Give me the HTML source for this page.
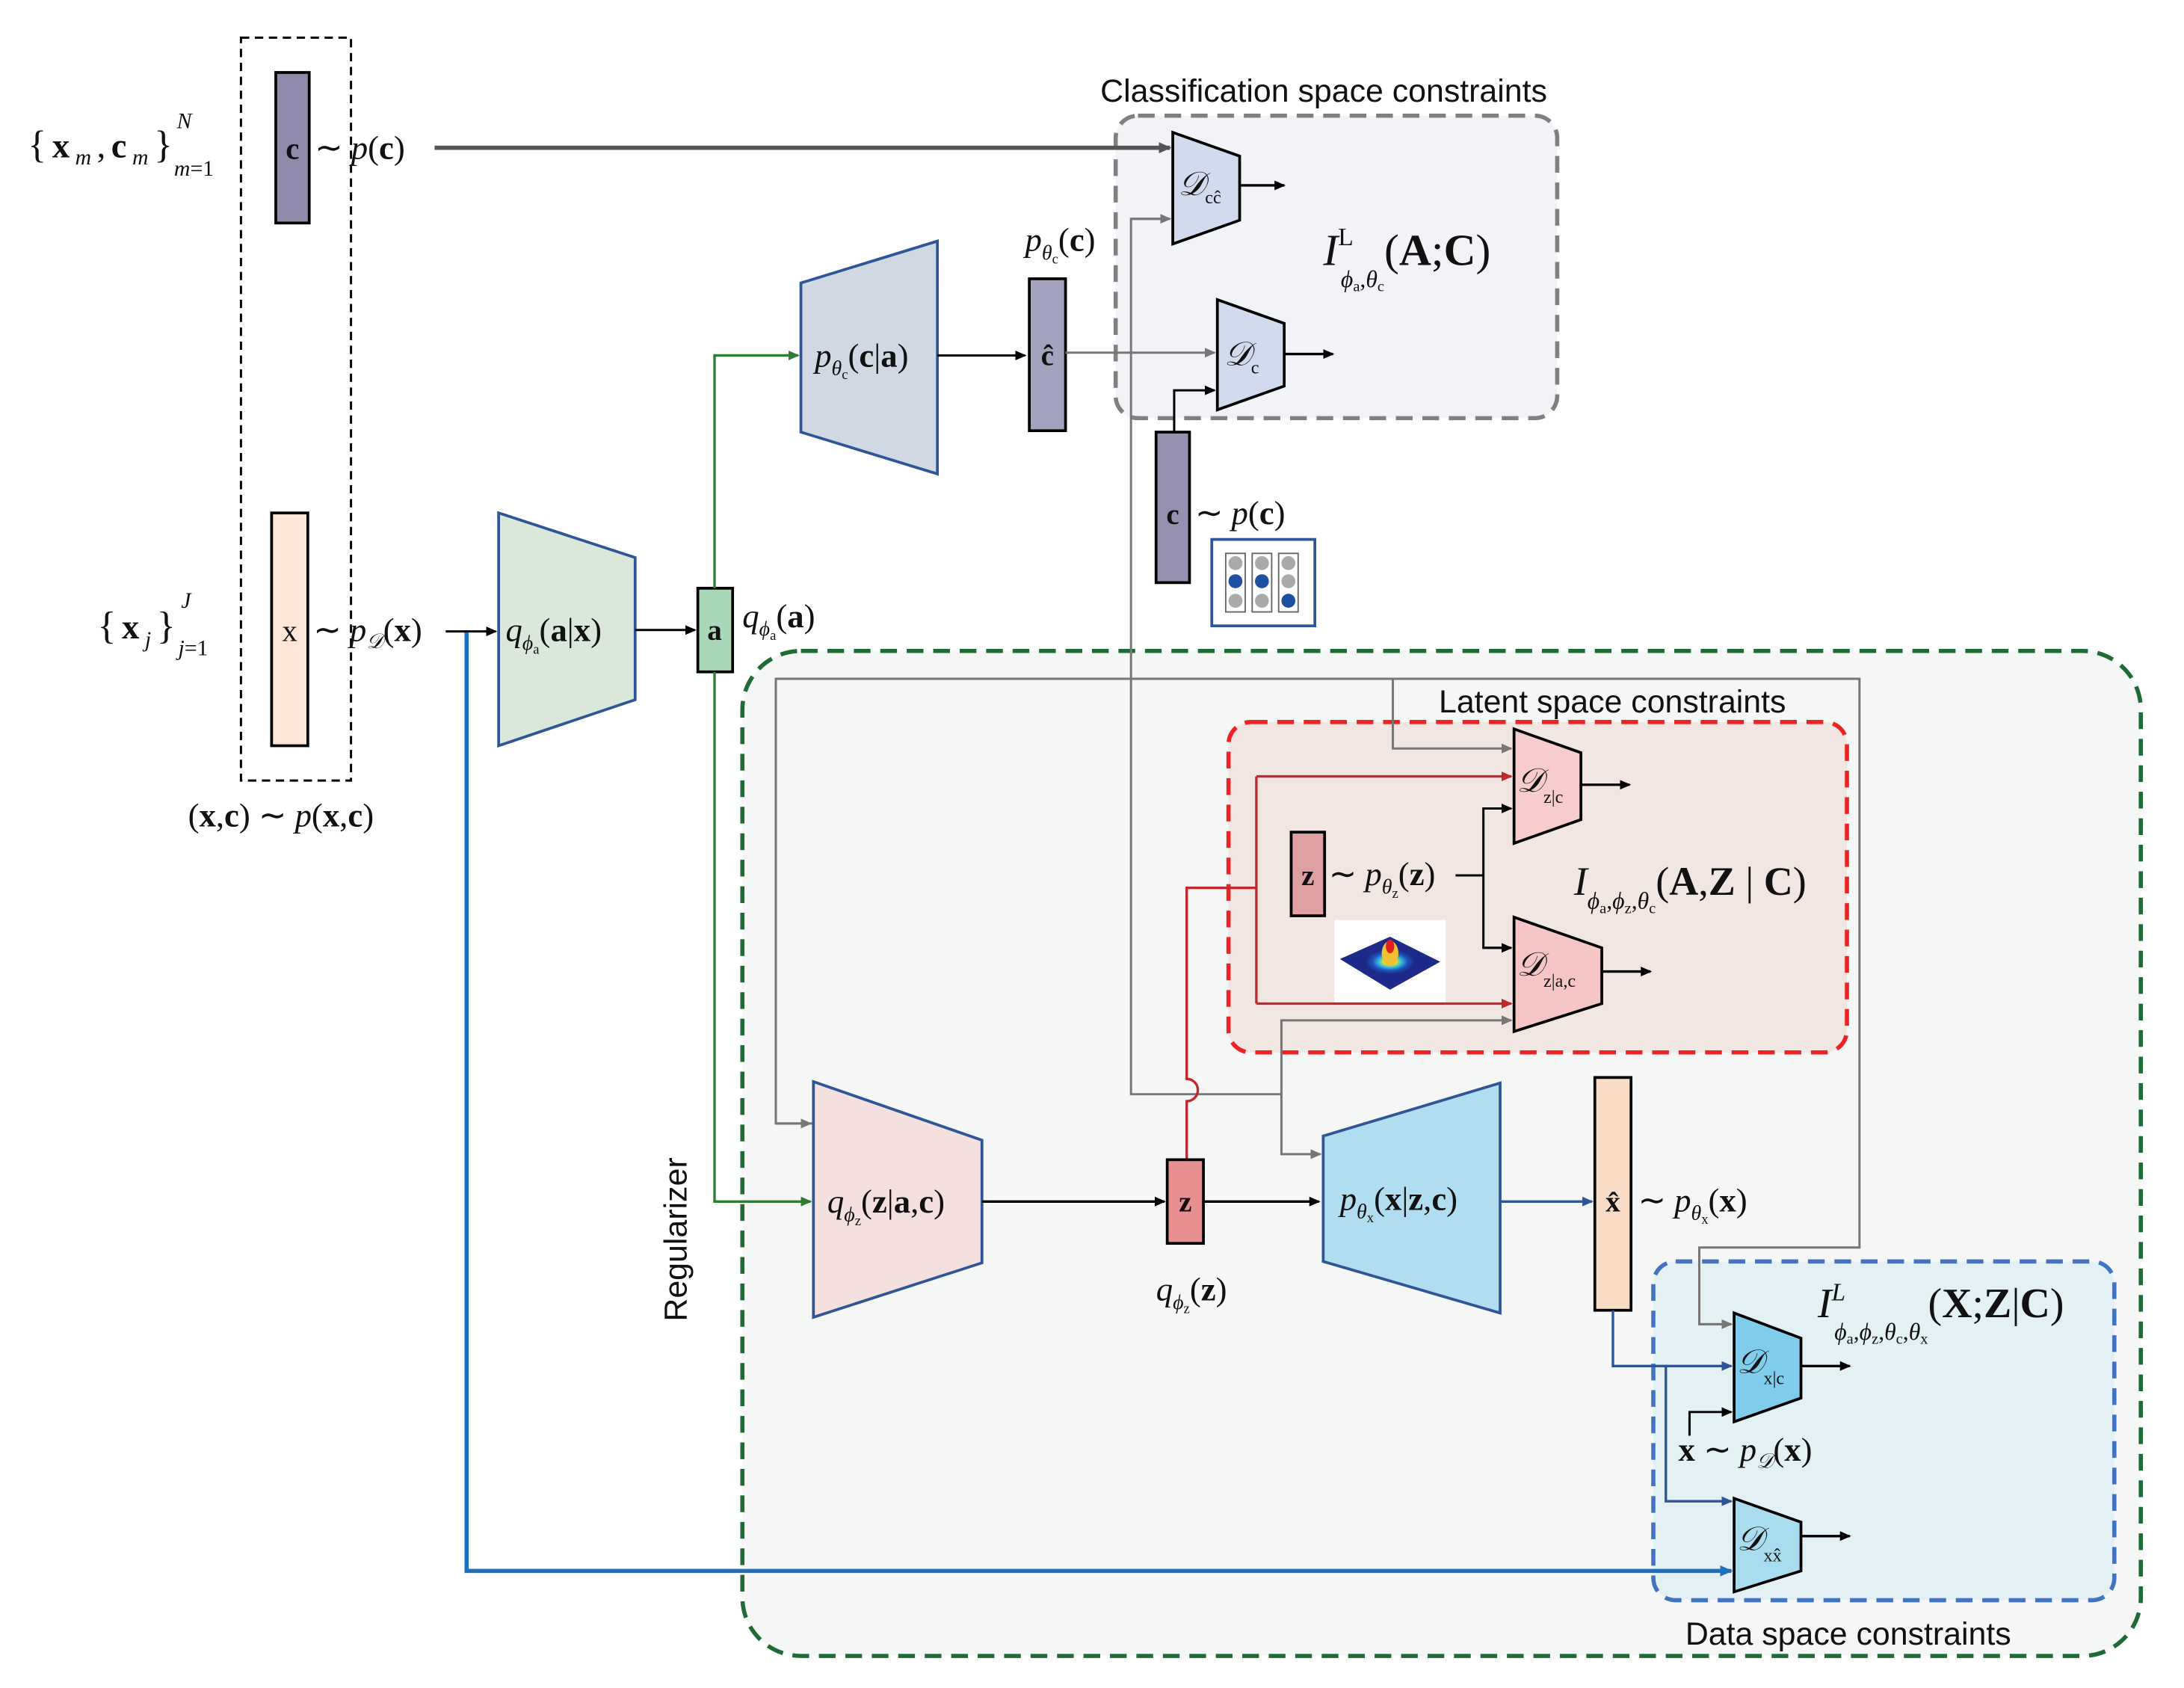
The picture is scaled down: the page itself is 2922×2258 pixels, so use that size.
<!DOCTYPE html>
<html><head><meta charset="utf-8"><style>
html,body{margin:0;padding:0;background:#fff;}
svg{display:block;}
text{font-family:"Liberation Serif",serif;fill:#111;}
.s{font-family:"Liberation Sans",sans-serif;}
.b{font-weight:bold;}
.i{font-style:italic;}
</style></head><body>
<svg width="2922" height="2258" viewBox="0 0 1568 1211" preserveAspectRatio="none" xmlns="http://www.w3.org/2000/svg">
<defs>
<marker id="ak" markerWidth="8" markerHeight="8" refX="7" refY="4" orient="auto" markerUnits="userSpaceOnUse"><path d="M0,0.5 L8,4 L0,7.5 Z" fill="#000"/></marker>
<marker id="ag" markerWidth="8" markerHeight="8" refX="7" refY="4" orient="auto" markerUnits="userSpaceOnUse"><path d="M0,0.5 L8,4 L0,7.5 Z" fill="#777"/></marker>
<marker id="agd" markerWidth="9" markerHeight="9" refX="8" refY="4.5" orient="auto" markerUnits="userSpaceOnUse"><path d="M0,0.5 L9,4.5 L0,8.5 Z" fill="#555"/></marker>
<marker id="agr" markerWidth="8" markerHeight="8" refX="7" refY="4" orient="auto" markerUnits="userSpaceOnUse"><path d="M0,0.5 L8,4 L0,7.5 Z" fill="#2e7d32"/></marker>
<marker id="ar" markerWidth="8" markerHeight="8" refX="7" refY="4" orient="auto" markerUnits="userSpaceOnUse"><path d="M0,0.5 L8,4 L0,7.5 Z" fill="#c0282d"/></marker>
<marker id="ab" markerWidth="8" markerHeight="8" refX="7" refY="4" orient="auto" markerUnits="userSpaceOnUse"><path d="M0,0.5 L8,4 L0,7.5 Z" fill="#2f5597"/></marker>
<marker id="abb" markerWidth="9" markerHeight="9" refX="8" refY="4.5" orient="auto" markerUnits="userSpaceOnUse"><path d="M0,0.5 L9,4.5 L0,8.5 Z" fill="#1f6fbf"/></marker>
<radialGradient id="gauss" cx="50%" cy="50%" r="50%"><stop offset="0" stop-color="#e02020"/><stop offset="0.25" stop-color="#f0e020"/><stop offset="0.45" stop-color="#30c0e0"/><stop offset="0.7" stop-color="#2050c0"/><stop offset="1" stop-color="#1a2a80"/></radialGradient>
</defs>

<rect x="533" y="467" width="1004" height="721" rx="42" fill="#f5f7f7" stroke="#1e6b35" stroke-width="3" stroke-dasharray="12,7"/>
<rect x="801" y="83" width="317" height="217" rx="16" fill="#f2f3f7" stroke="#808080" stroke-width="3" stroke-dasharray="12,7"/>
<rect x="882" y="518" width="444" height="237" rx="16" fill="#f2e6e3" stroke="#ee2222" stroke-width="3" stroke-dasharray="12,7"/>
<rect x="1187" y="905" width="331" height="243" rx="16" fill="#e4f1f4" stroke="#4472c4" stroke-width="3" stroke-dasharray="12,7"/>
<rect x="173" y="27" width="79" height="533" fill="none" stroke="#000" stroke-width="1.6" stroke-dasharray="6,4"/>

<text class="s" x="790" y="73" font-size="23">Classification space constraints</text>
<text class="s" x="1033" y="511" font-size="23">Latent space constraints</text>
<text class="s" x="1210" y="1180" font-size="23">Data space constraints</text>
<text class="s" x="0" y="0" font-size="23" transform="translate(493,948) rotate(-90)">Regularizer</text>

<rect x="198" y="52" width="24" height="108" fill="#8f8aab" stroke="#000" stroke-width="2"/>
<text x="210" y="114" font-size="22" class="b" text-anchor="middle">c</text>
<text x="226" y="114" font-size="24">∼ <tspan class="i">p</tspan>(<tspan class="b">c</tspan>)</text>
<text x="20" y="113" font-size="28" textLength="104" lengthAdjust="spacing">{<tspan class="b" font-size="25">x</tspan><tspan class="i" font-size="16" dy="5">m</tspan><tspan dy="-5" font-size="25">,</tspan><tspan class="b" font-size="25">c</tspan><tspan class="i" font-size="16" dy="5">m</tspan><tspan dy="-5">}</tspan></text>
<text x="125" y="126" font-size="16"><tspan class="i">m</tspan>=1</text>
<text x="127" y="92" font-size="16" class="i">N</text>
<line x1="312" y1="106" x2="840" y2="106" stroke="#555" stroke-width="3" marker-end="url(#agd)"/>

<rect x="195" y="368" width="26" height="167" fill="#fde6d8" stroke="#000" stroke-width="2"/>
<text x="208" y="460" font-size="22" text-anchor="middle" fill="#555">x</text>
<text x="225" y="460" font-size="24">∼ <tspan class="i">p</tspan><tspan class="i" font-size="15" dy="5">𝒟</tspan><tspan dy="-5">(</tspan><tspan class="b">x</tspan>)</text>
<text x="70" y="458" font-size="28" textLength="56" lengthAdjust="spacing">{<tspan class="b" font-size="25">x</tspan><tspan class="i" font-size="16" dy="6">j</tspan><tspan dy="-6">}</tspan></text>
<text x="128" y="470" font-size="16"><tspan class="i">j</tspan>=1</text>
<text x="130" y="436" font-size="16" class="i">J</text>
<text x="135" y="593" font-size="24">(<tspan class="b">x</tspan>,<tspan class="b">c</tspan>) ∼ <tspan class="i">p</tspan>(<tspan class="b">x</tspan>,<tspan class="b">c</tspan>)</text>

<polyline points="335,453 335,1127 1243,1127" fill="none" stroke="#1f6fbf" stroke-width="3" marker-end="url(#abb)"/>
<line x1="320" y1="453" x2="356" y2="453" stroke="#000" stroke-width="1.6" marker-end="url(#ak)"/>

<polygon points="358,368 456,400 456,502 358,535" fill="#dae8dc" stroke="#2f5597" stroke-width="2"/>
<text x="363" y="460" font-size="24"><tspan class="i">q</tspan><tspan class="i" font-size="15" dy="6">ϕ</tspan><tspan font-size="10" dy="3">a</tspan><tspan dy="-9">(</tspan><tspan class="b">a</tspan>|<tspan class="b">x</tspan>)</text>
<line x1="456" y1="452" x2="499" y2="452" stroke="#000" stroke-width="1.6" marker-end="url(#ak)"/>
<rect x="501" y="422" width="25" height="60" fill="#a9d8b8" stroke="#000" stroke-width="2"/>
<text x="513" y="459" font-size="21" class="b" text-anchor="middle">a</text>
<text x="533" y="450" font-size="24"><tspan class="i">q</tspan><tspan class="i" font-size="15" dy="6">ϕ</tspan><tspan font-size="10" dy="3">a</tspan><tspan dy="-9">(</tspan><tspan class="b">a</tspan>)</text>

<polyline points="513,422 513,255 573,255" fill="none" stroke="#2e7d32" stroke-width="1.8" marker-end="url(#agr)"/>
<polyline points="513,482 513,862 582,862" fill="none" stroke="#2e7d32" stroke-width="1.8" marker-end="url(#agr)"/>

<polygon points="575,203 673,173 673,340 575,310" fill="#cfd8e3" stroke="#2f5597" stroke-width="2"/>
<text x="585" y="263" font-size="24"><tspan class="i">p</tspan><tspan class="i" font-size="15" dy="6">θ</tspan><tspan font-size="10" dy="3">c</tspan><tspan dy="-9">(</tspan><tspan class="b">c</tspan>|<tspan class="b">a</tspan>)</text>
<line x1="673" y1="255" x2="736" y2="255" stroke="#000" stroke-width="1.6" marker-end="url(#ak)"/>
<rect x="739" y="200" width="26" height="109" fill="#a3a3bf" stroke="#000" stroke-width="2"/>
<text x="752" y="262" font-size="21" class="b" text-anchor="middle">ĉ</text>
<text x="736" y="180" font-size="24"><tspan class="i">p</tspan><tspan class="i" font-size="15" dy="6">θ</tspan><tspan font-size="10" dy="3">c</tspan><tspan dy="-9">(</tspan><tspan class="b">c</tspan>)</text>
<line x1="765" y1="253" x2="872" y2="253" stroke="#777" stroke-width="1.6" marker-end="url(#ag)"/>

<polygon points="842,95 890,112 890,158 842,175" fill="#d2dbee" stroke="#000" stroke-width="2"/>
<text x="846" y="140" font-size="24" class="i">𝒟<tspan font-size="13" dy="6" font-style="normal">cĉ</tspan></text>
<line x1="890" y1="133" x2="922" y2="133" stroke="#000" stroke-width="1.8" marker-end="url(#ak)"/>
<polygon points="874,215 922,232 922,277 874,294" fill="#d2dbee" stroke="#000" stroke-width="2"/>
<text x="879" y="262" font-size="24" class="i">𝒟<tspan font-size="13" dy="6" font-style="normal">c</tspan></text>
<line x1="922" y1="254" x2="957" y2="254" stroke="#000" stroke-width="1.8" marker-end="url(#ak)"/>
<polyline points="843,310 843,280 872,280" fill="none" stroke="#000" stroke-width="1.6" marker-end="url(#ak)"/>
<text x="950" y="190" font-size="32"><tspan class="i">I</tspan><tspan font-size="18" dy="-14">L</tspan><tspan class="i" font-size="17" dy="30" dx="-9">ϕ</tspan><tspan font-size="11" dy="3">a</tspan><tspan font-size="17" dy="-3">,</tspan><tspan class="i" font-size="17">θ</tspan><tspan font-size="11" dy="3">c</tspan><tspan dy="-19">(</tspan><tspan class="b">A</tspan>;<tspan class="b">C</tspan>)</text>

<rect x="830" y="310" width="24" height="108" fill="#9590b0" stroke="#000" stroke-width="2"/>
<text x="842" y="376" font-size="21" class="b" text-anchor="middle">c</text>
<text x="858" y="376" font-size="24">∼ <tspan class="i">p</tspan>(<tspan class="b">c</tspan>)</text>
<rect x="870" y="387" width="74" height="62" fill="#fff" stroke="#2f5597" stroke-width="2"/>
<g stroke="#666" stroke-width="1" fill="none"><rect x="880" y="397" width="14" height="42"/><rect x="899" y="397" width="14" height="42"/><rect x="918" y="397" width="14" height="42"/></g>
<g fill="#aaa"><circle cx="887" cy="404" r="5"/><circle cx="887" cy="431" r="5"/><circle cx="906" cy="404" r="5"/><circle cx="906" cy="431" r="5"/><circle cx="925" cy="404" r="5"/><circle cx="925" cy="417" r="5"/></g>
<g fill="#1f4fa0"><circle cx="887" cy="417" r="5"/><circle cx="906" cy="417" r="5"/><circle cx="925" cy="431" r="5"/></g>

<polyline points="840,157 812,157 812,785 920,785" fill="none" stroke="#777" stroke-width="1.6"/>
<line x1="812" y1="157" x2="840" y2="157" stroke="#777" stroke-width="1.6" marker-end="url(#ag)"/>
<polyline points="920,785 920,732 1085,732" fill="none" stroke="#777" stroke-width="1.6" marker-end="url(#ag)"/>
<polyline points="920,785 920,828 948,828" fill="none" stroke="#777" stroke-width="1.6" marker-end="url(#ag)"/>
<polyline points="583,806 557,806 557,487 1335,487 1335,895 1220,895 1220,950 1243,950" fill="none" stroke="#777" stroke-width="1.6"/>
<line x1="557" y1="806" x2="582" y2="806" stroke="#777" stroke-width="1.6" marker-end="url(#ag)"/>
<line x1="1220" y1="950" x2="1243" y2="950" stroke="#777" stroke-width="1.6" marker-end="url(#ag)"/>
<polyline points="1000,487 1000,537 1085,537" fill="none" stroke="#777" stroke-width="1.6" marker-end="url(#ag)"/>

<polygon points="1087,523 1135,540 1135,588 1087,605" fill="#f6cccc" stroke="#000" stroke-width="2"/>
<text x="1089" y="568" font-size="24" class="i">𝒟<tspan font-size="13" dy="8" font-style="normal">z|c</tspan></text>
<line x1="1135" y1="563" x2="1170" y2="563" stroke="#000" stroke-width="1.8" marker-end="url(#ak)"/>
<polygon points="1087,658 1150,680 1150,720 1087,740" fill="#f6c6c6" stroke="#000" stroke-width="2"/>
<text x="1089" y="700" font-size="24" class="i">𝒟<tspan font-size="13" dy="8" font-style="normal">z|a,c</tspan></text>
<line x1="1150" y1="697" x2="1185" y2="697" stroke="#000" stroke-width="1.8" marker-end="url(#ak)"/>
<rect x="927" y="597" width="24" height="60" fill="#dea0a0" stroke="#000" stroke-width="2"/>
<text x="939" y="635" font-size="21" class="b" text-anchor="middle">z</text>
<text x="954" y="635" font-size="24">∼ <tspan class="i">p</tspan><tspan class="i" font-size="15" dy="6">θ</tspan><tspan font-size="10" dy="3">z</tspan><tspan dy="-9">(</tspan><tspan class="b">z</tspan>)</text>
<line x1="1045" y1="628" x2="1065" y2="628" stroke="#000" stroke-width="1.6"/>
<polyline points="1085,580 1065,580 1065,680 1085,680" fill="none" stroke="#000" stroke-width="1.6"/>
<line x1="1065" y1="580" x2="1085" y2="580" stroke="#000" stroke-width="1.6" marker-end="url(#ak)"/>
<line x1="1065" y1="680" x2="1085" y2="680" stroke="#000" stroke-width="1.6" marker-end="url(#ak)"/>
<rect x="958" y="660" width="80" height="60" fill="#fff"/>
<polygon points="962,688 998,672 1034,690 998,710" fill="#1e2a8a"/>
<ellipse cx="998" cy="690" rx="18" ry="9" fill="url(#gauss)"/>
<ellipse cx="998" cy="684" rx="6" ry="9" fill="#f0c030"/>
<ellipse cx="998" cy="679" rx="3" ry="5" fill="#e02020"/>
<text x="1130" y="642" font-size="29"><tspan class="i">I</tspan><tspan class="i" font-size="17" dy="10">ϕ</tspan><tspan font-size="11" dy="3">a</tspan><tspan font-size="17" dy="-3">,</tspan><tspan class="i" font-size="17">ϕ</tspan><tspan font-size="11" dy="3">z</tspan><tspan font-size="17" dy="-3">,</tspan><tspan class="i" font-size="17">θ</tspan><tspan font-size="11" dy="3">c</tspan><tspan dy="-13">(</tspan><tspan class="b">A</tspan>,<tspan class="b">Z</tspan> | <tspan class="b">C</tspan>)</text>

<path d="M852,832 L852,790 A8,8 0 0 0 852,774 L852,637 L902,637" fill="none" stroke="#c0282d" stroke-width="1.8"/>
<polyline points="902,720 902,557" fill="none" stroke="#c0282d" stroke-width="1.8"/>
<line x1="902" y1="557" x2="1085" y2="557" stroke="#c0282d" stroke-width="1.8" marker-end="url(#ar)"/>
<line x1="902" y1="720" x2="1085" y2="720" stroke="#c0282d" stroke-width="1.8" marker-end="url(#ar)"/>

<polygon points="584,776 705,818 705,906 584,945" fill="#f5e0e0" stroke="#2f5597" stroke-width="2"/>
<text x="594" y="870" font-size="24"><tspan class="i">q</tspan><tspan class="i" font-size="15" dy="6">ϕ</tspan><tspan font-size="10" dy="3">z</tspan><tspan dy="-9">(</tspan><tspan class="b">z</tspan>|<tspan class="b">a</tspan>,<tspan class="b">c</tspan>)</text>
<line x1="705" y1="862" x2="836" y2="862" stroke="#000" stroke-width="1.8" marker-end="url(#ak)"/>
<rect x="838" y="832" width="26" height="60" fill="#e88f8f" stroke="#000" stroke-width="2"/>
<text x="851" y="869" font-size="21" class="b" text-anchor="middle">z</text>
<text x="830" y="933" font-size="24"><tspan class="i">q</tspan><tspan class="i" font-size="15" dy="6">ϕ</tspan><tspan font-size="10" dy="3">z</tspan><tspan dy="-9">(</tspan><tspan class="b">z</tspan>)</text>
<line x1="864" y1="862" x2="947" y2="862" stroke="#000" stroke-width="1.8" marker-end="url(#ak)"/>

<polygon points="950,815 1077,777 1077,942 950,905" fill="#b0def0" stroke="#2f5597" stroke-width="2"/>
<text x="962" y="868" font-size="24"><tspan class="i">p</tspan><tspan class="i" font-size="15" dy="6">θ</tspan><tspan font-size="10" dy="3">x</tspan><tspan dy="-9">(</tspan><tspan class="b">x</tspan>|<tspan class="b">z</tspan>,<tspan class="b">c</tspan>)</text>
<line x1="1077" y1="862" x2="1143" y2="862" stroke="#2f5597" stroke-width="1.8" marker-end="url(#ab)"/>
<rect x="1145" y="773" width="26" height="167" fill="#f8dcc5" stroke="#000" stroke-width="2"/>
<text x="1158" y="869" font-size="21" class="b" text-anchor="middle">x̂</text>
<text x="1176" y="869" font-size="24">∼ <tspan class="i">p</tspan><tspan class="i" font-size="15" dy="6">θ</tspan><tspan font-size="10" dy="3">x</tspan><tspan dy="-9">(</tspan><tspan class="b">x</tspan>)</text>

<polygon points="1245,942 1293,960 1293,1003 1245,1020" fill="#7fcdea" stroke="#000" stroke-width="2"/>
<text x="1247" y="985" font-size="24" class="i">𝒟<tspan font-size="13" dy="8" font-style="normal">x|c</tspan></text>
<line x1="1293" y1="980" x2="1328" y2="980" stroke="#000" stroke-width="1.8" marker-end="url(#ak)"/>
<polygon points="1245,1075 1293,1092 1293,1127 1245,1142" fill="#a9dcef" stroke="#000" stroke-width="2"/>
<text x="1247" y="1112" font-size="24" class="i">𝒟<tspan font-size="13" dy="8" font-style="normal">xx̂</tspan></text>
<line x1="1293" y1="1102" x2="1328" y2="1102" stroke="#000" stroke-width="1.8" marker-end="url(#ak)"/>
<polyline points="1158,940 1158,980 1243,980" fill="none" stroke="#2f5597" stroke-width="1.8" marker-end="url(#ab)"/>
<polyline points="1196,980 1196,1077 1243,1077" fill="none" stroke="#2f5597" stroke-width="1.8" marker-end="url(#ab)"/>
<polyline points="1213,1030 1213,1013 1243,1013" fill="none" stroke="#000" stroke-width="1.6" marker-end="url(#ak)"/>
<text x="1205" y="1048" font-size="24"><tspan class="b">x</tspan> ∼ <tspan class="i">p</tspan><tspan class="i" font-size="15" dy="5">𝒟</tspan><tspan dy="-5">(</tspan><tspan class="b">x</tspan>)</text>
<text x="1305" y="945" font-size="30"><tspan class="i">I</tspan><tspan class="i" font-size="18" dy="-12">L</tspan><tspan class="i" font-size="17" dy="28" dx="-8">ϕ</tspan><tspan font-size="11" dy="3">a</tspan><tspan font-size="17" dy="-3">,</tspan><tspan class="i" font-size="17">ϕ</tspan><tspan font-size="11" dy="3">z</tspan><tspan font-size="17" dy="-3">,</tspan><tspan class="i" font-size="17">θ</tspan><tspan font-size="11" dy="3">c</tspan><tspan font-size="17" dy="-3">,</tspan><tspan class="i" font-size="17">θ</tspan><tspan font-size="11" dy="3">x</tspan><tspan dy="-19">(</tspan><tspan class="b">X</tspan>;<tspan class="b">Z</tspan>|<tspan class="b">C</tspan>)</text>
</svg>
</body></html>
